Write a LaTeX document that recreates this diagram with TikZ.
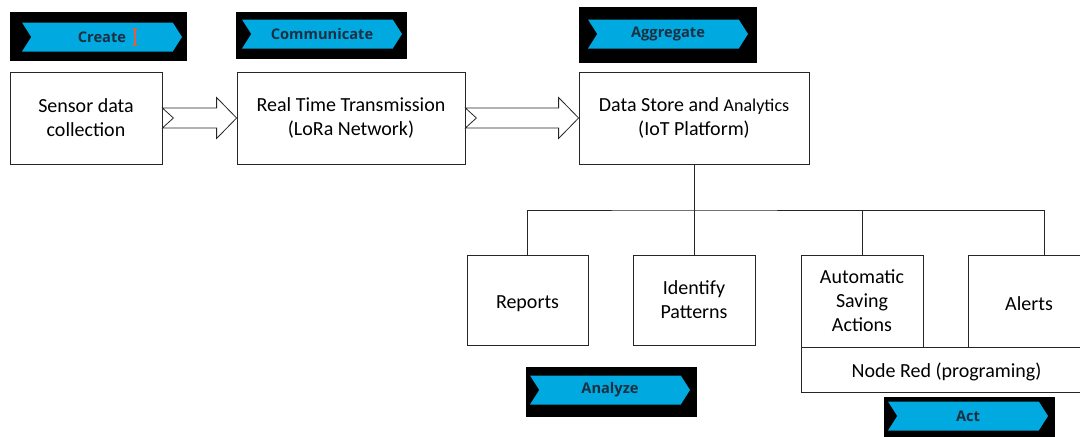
\documentclass[tikz,border=0pt]{standalone}
\usepackage{fontspec}
\setmainfont{Carlito}
\newfontfamily\badgefont{Open Sans}
\usepackage{tikz}
\usepackage{xcolor}
\usetikzlibrary{calc, positioning, shapes.symbols}

\definecolor{badgeblue}{RGB}{0,169,224}
\definecolor{badgetext}{RGB}{28,48,66}
\definecolor{cursorred}{RGB}{224,96,58}

\tikzset{
  box/.style={draw=black!85, line width=0.6pt, fill=white, align=center, inner sep=2pt,
    font=\fontsize{15}{18}\selectfont, execute at begin node={\rule{0pt}{15pt}}},
  badgebg/.style={fill=black, inner sep=0pt},
  badge/.style={shape=signal, signal from=west, signal to=east, signal pointer angle=115,
    fill=badgeblue, inner sep=0pt, minimum width=120pt, minimum height=21.75pt,
    text=badgetext, font=\badgefont\bfseries\fontsize{11}{12}\selectfont},
  wire/.style={draw=black!85, line width=0.6pt}
}

% hollow block arrow between two boxes, notched at the tail
\newcommand{\hollowarrow}[2]{%
  \draw[wire, fill=white]
    ($(#1.east)+(0,10)$) -- ($(#2.west)+(-20,10)$) -- ($(#2.west)+(-20,20.5)$)
    -- (#2.west) -- ($(#2.west)+(-20,-20.5)$) -- ($(#2.west)+(-20,-10)$)
    -- ($(#1.east)+(0,-10)$) -- ($(#1.east)+(11,0)$) -- cycle;}

\begin{document}
\begin{tikzpicture}[x=0.75pt, y=0.75pt]
  \useasboundingbox (0,0) rectangle (1080,-436);

  % stage badges
  \node[badgebg, minimum width=132.75pt, minimum height=36.75pt] (createbg) at (98.5,-36.5) {};
  \node[badge] (create) at (102,-37) {Create};
  \node[badgebg, minimum width=128.25pt, minimum height=35.25pt] (commbg) at (321.5,-35.5) {};
  \node[badge] (comm) at (322,-34) {Communicate};
  \node[badgebg, minimum width=133.5pt, minimum height=42pt] (aggbg) at (668,-35) {};
  \node[badge] (agg) at (668,-34) {Aggregate};
  \node[badgebg, minimum width=128.25pt, minimum height=37.5pt] (analyzebg) at (611.5,-392) {};
  \node[badge] (analyze) at (610,-390) {Analyze};
  \node[badgebg, minimum width=128.25pt, minimum height=30pt] (actbg) at (969.5,-416.5) {};
  \node[badge] (act) at (968,-416) {Act};

  % text cursor left in the first badge
  \draw[cursorred, line width=0.9pt]
    ($(create.center)+(33,8)$) -- ($(create.center)+(33,-8)$)
    ($(create.center)+(31,8)$) -- ($(create.center)+(35,8)$)
    ($(create.center)+(31,-8)$) -- ($(create.center)+(35,-8)$);

  % top row
  \node[box, minimum width=114pt, minimum height=69pt] (sensor) at (86,-118) {Sensor data\\collection};
  \node[box, minimum width=171pt, minimum height=69pt] (trans) at (351,-118) {Real Time Transmission\\(LoRa Network)};
  \node[box, minimum width=172.5pt, minimum height=69pt] (store) at (694,-118)
    {Data Store and {\fontsize{13.5}{18}\selectfont Analytics}\\(IoT Platform)};

  \hollowarrow{sensor}{trans}
  \hollowarrow{trans}{store}

  % second row
  \node[box, minimum width=90.75pt, minimum height=67.5pt] (reports) at (527.5,-300) {Reports};
  \node[box, minimum width=91.5pt, minimum height=67.5pt] (patterns) at (694,-300) {Identify\\Patterns};
  \node[box, minimum width=91.5pt, minimum height=69pt] (saving) at (862,-301) {Automatic\\Saving\\Actions};
  \node[box, minimum width=91.5pt, minimum height=69pt] (alerts) at (1029,-301) {Alerts};
  \node[box, minimum width=218.25pt, minimum height=33.75pt] (nodered) at (946.5,-369.5) {Node Red (programing)};

  \coordinate (hub) at (694,-210);
  \coordinate (alertsin) at ($(alerts.north)+(15,0)$);
  \draw[wire] (store.south) -- (patterns.north);
  \draw[wire] (reports.north) |- (hub) -| (saving.north);
  \draw[wire] (saving.north |- hub) -| (alertsin);
\end{tikzpicture}
\end{document}
